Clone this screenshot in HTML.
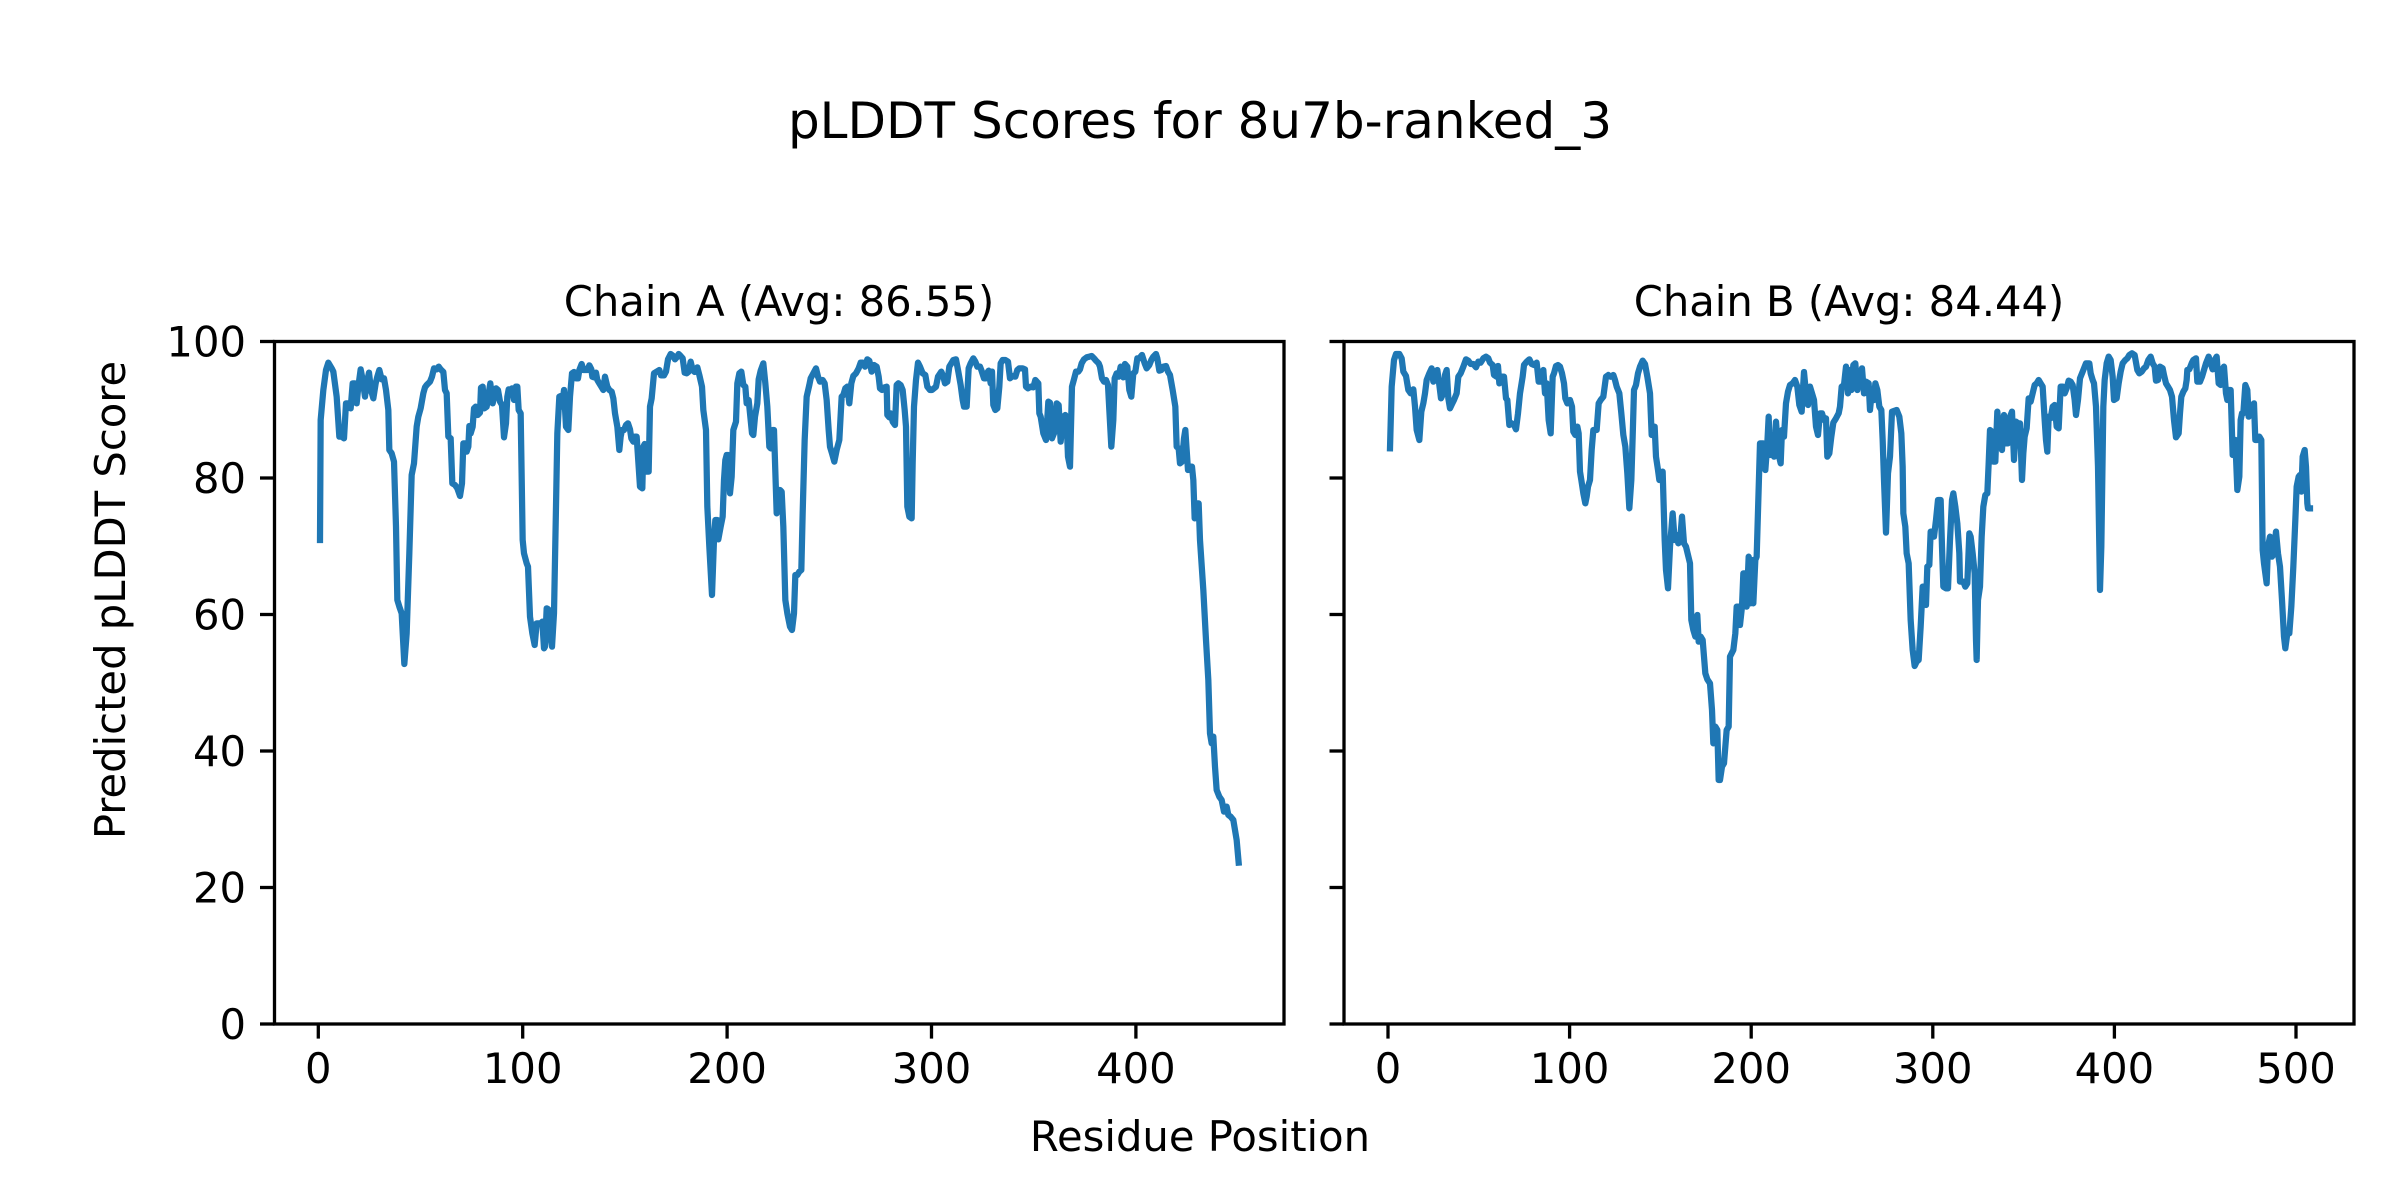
<!DOCTYPE html>
<html><head><meta charset="utf-8"><style>
html,body{margin:0;padding:0;background:#fff;}
svg{display:block;}
text{font-family:"DejaVu Sans","Liberation Sans",sans-serif;fill:#000;}
.l{fill:none;stroke:#1f77b4;stroke-width:6.25;stroke-linejoin:round;stroke-linecap:square;}
</style></head><body>
<svg width="2400" height="1200" viewBox="0 0 2400 1200" xmlns="http://www.w3.org/2000/svg">
<rect width="2400" height="1200" fill="#fff"/>
<text x="1200" y="138" font-size="50" text-anchor="middle">pLDDT Scores for 8u7b-ranked_3</text>
<text x="779" y="316" font-size="41.7" text-anchor="middle">Chain A (Avg: 86.55)</text>
<text x="1849" y="316" font-size="41.7" text-anchor="middle">Chain B (Avg: 84.44)</text>
<text x="1200" y="1151" font-size="41.7" text-anchor="middle">Residue Position</text>
<text transform="translate(125,600) rotate(-90)" font-size="41.7" text-anchor="middle">Predicted pLDDT Score</text>

<!-- Chain A data -->
<g transform="translate(300,340) scale(0.33333)">
<polyline class="l" vector-effect="non-scaling-stroke" points="60,600 62,240 70,150 78,90 85,68 95,85 100,95 110,170 118,290 125,290 132,295 138,190 148,190 152,205 158,130 165,130 170,190 175,140 182,88 188,120 195,170 200,130 207,98 213,150 220,175 227,130 232,110 238,90 245,118 252,115 258,150 265,210 268,330 275,340 282,365 288,560 292,780 298,800 305,820 313,972 320,880 328,640 335,405 342,370 350,260 355,230 362,205 370,160 375,142 380,135 390,125 396,110 402,85 410,88 416,80 422,88 430,96 435,150 440,160 445,290 452,295 457,430 465,435 472,445 480,468 486,430 490,310 497,310 500,335 505,320 508,258 512,280 518,260 522,205 527,200 533,225 540,218 543,143 548,140 553,205 560,200 566,160 571,130 578,190 583,170 588,145 594,150 600,185 606,195 612,292 618,250 622,170 626,148 632,150 636,145 642,180 648,140 652,140 656,210 662,220 668,600 672,640 680,670 684,680 690,830 697,880 704,915 710,850 716,850 722,850 727,845 732,925 735,920 740,805 745,808 750,870 756,920 762,820 768,500 772,280 778,170 782,168 786,200 792,150 798,260 805,270 810,170 816,100 822,96 828,115 834,115 838,90 845,72 850,90 856,90 862,90 868,76 874,88 877,110 882,112 888,98 892,120 898,130 904,140 910,150 915,110 922,140 928,150 935,155 940,175 945,220 952,260 958,330 962,290 966,270 972,270 978,255 984,250 990,268 994,295 1000,305 1005,290 1010,290 1015,365 1020,440 1027,445 1030,320 1034,312 1040,395 1046,395 1050,200 1055,175 1062,100 1070,95 1078,90 1083,106 1092,106 1098,95 1104,58 1112,42 1120,48 1125,58 1132,50 1136,42 1142,48 1148,55 1154,98 1160,100 1166,95 1172,65 1178,90 1184,96 1192,82 1198,105 1206,140 1210,210 1218,270 1222,500 1228,620 1236,765 1242,600 1246,540 1252,540 1255,598 1262,560 1268,530 1272,420 1276,360 1280,345 1285,345 1290,460 1295,410 1300,270 1308,245 1312,130 1318,100 1324,95 1330,135 1336,140 1340,190 1346,180 1352,240 1356,280 1360,285 1365,230 1372,190 1376,118 1382,92 1390,70 1396,130 1402,200 1408,320 1412,325 1418,270 1422,270 1430,520 1436,450 1440,450
1445,455 1450,560 1456,780 1462,820 1470,860 1476,870 1482,820 1486,705 1492,705 1498,695 1504,690 1508,520 1514,300 1520,170 1528,135 1532,115 1540,100 1548,85 1554,110 1560,125 1568,120 1574,130 1580,180 1586,270 1590,320 1596,340 1603,365 1610,330 1618,300 1625,170 1630,165 1636,145 1642,140 1648,190 1654,130 1660,108 1668,100 1676,85 1682,68 1688,68 1695,80 1702,58 1708,62 1715,95 1722,75 1730,80 1736,110 1740,145 1746,150 1754,142 1760,140 1762,225 1768,232 1772,220 1778,245 1785,255 1790,135 1795,130 1802,135 1808,150 1814,210 1818,260 1822,500 1828,530 1835,535 1838,370 1842,200 1848,120 1854,68 1860,80 1868,100 1876,105 1882,140 1890,150 1896,150 1902,145 1908,140 1914,110 1924,95 1930,110 1935,130 1942,125 1948,80 1954,70 1960,60 1968,58 1975,95 1982,135 1988,180 1992,200 2000,200 2006,85 2012,70 2020,55 2026,65 2032,80 2040,80 2044,90 2052,115 2058,115 2062,98 2066,92 2072,130 2076,95 2080,195 2086,210 2092,205 2098,140 2102,70 2108,60 2116,60 2124,65 2130,115 2138,108 2146,110 2152,90 2158,85 2168,85 2175,88 2178,140 2184,145 2192,140 2200,142 2206,120 2215,130 2218,220 2222,230 2230,280 2238,300 2245,185 2250,188 2256,295 2264,275 2270,190 2276,195 2282,305 2290,230 2296,225 2300,245 2304,350 2310,380 2316,140 2322,118 2328,95 2335,95 2340,88 2345,70 2352,58 2360,52 2368,50 2375,48 2382,55 2388,62 2396,70 2400,80 2406,115 2412,125 2418,120 2424,135 2428,210 2434,320 2440,240 2444,115 2450,100 2456,110 2462,80 2466,85 2470,112 2475,72 2482,80 2488,150 2494,170 2500,100 2506,95 2512,55 2518,55 2526,45 2534,70 2540,85 2548,75 2554,60 2560,50 2568,42 2572,55 2578,92 2584,90 2590,80 2598,78 2604,95 2610,105 2618,150 2626,200 2630,320 2636,325 2640,370 2646,365 2652,295 2656,270 2660,330 2664,390 2670,380 2676,380 2680,420 2684,535 2690,490 2696,490 2700,600 2710,750 2718,900 2725,1020 2730,1180 2735,1210 2740,1190 2745,1280 2750,1350 2758,1370 2765,1380 2772,1415 2780,1400 2785,1425 2792,1430 2800,1440 2810,1500 2816,1568"/>
</g>

<!-- Chain B data -->
<g transform="translate(1360,340) scale(0.33333)">
<polyline class="l" vector-effect="non-scaling-stroke" points="90,325 95,140 102,60 108,42 118,42 125,55 130,95 138,108 145,150 152,160 160,148 165,200 170,270 178,300 184,215 190,190 195,160 200,120 208,100 215,85 220,125 227,95 232,90 238,135 243,175 250,160 255,105 260,90 265,175 270,205 277,190 282,180 290,160 295,110 302,100 310,80 318,58 325,62 332,72 340,72 348,82 355,65 362,68 370,55 378,50 385,55 390,68 398,75 402,105 410,110 414,78 418,130 425,110 432,110 438,175 442,180 448,255 455,250 462,255 468,268 474,220 480,160 488,110 492,75 500,65 508,58 515,72 522,75 530,68 536,125 542,125 550,90 555,160 560,130 566,240 572,280 578,110 582,100 588,78 594,75 600,80 606,100 612,130 616,175 622,190 630,180 636,200 640,275 646,285 652,260 656,280 660,395 664,420 670,460 676,490 680,470 684,440 690,420 695,330 700,270 710,270 716,190 722,180 730,170 738,110 745,105 752,110 760,105 765,120 770,140 778,160 784,220 790,285 796,320 802,400 808,505 814,420 818,290 822,150 828,135 834,100 840,80 848,62 855,72 862,110 870,160 875,285 880,285 884,260 888,350 894,390 898,420 902,400 908,395 914,600 918,690 924,745 930,620 938,520 944,600 950,585 955,610 962,580 966,530 972,610 978,620 984,645 990,670 994,840 1000,870 1006,890 1012,825 1016,905 1022,890 1028,900 1036,1000 1042,1018 1050,1030 1056,1110 1060,1210 1066,1160 1072,1170 1076,1320 1080,1320 1086,1280 1092,1270 1100,1170 1106,1160 1110,950 1115,940 1120,930 1126,880 1130,800 1136,800 1140,855 1146,800 1150,700 1156,700 1160,800 1166,650 1172,790 1176,660 1180,790 1186,660 1190,650 1200,310 1210,310 1216,390 1222,310 1226,230 1230,345 1236,300 1242,350 1248,245 1255,340 1262,370 1266,270 1272,290 1278,190 1284,155 1290,135 1298,130 1305,120 1312,140 1318,195 1325,215 1332,96 1338,160 1344,195 1350,140 1356,160 1362,180 1368,260 1374,285 1380,220 1386,220 1392,240 1398,235 1402,350 1408,340 1414,290 1420,248 1428,235 1436,220 1440,200
1445,140 1452,135 1458,80 1464,160 1468,90 1474,150 1480,75 1486,70 1492,150 1498,110 1506,85 1512,160 1518,125 1526,130 1530,210 1536,150 1542,180 1546,130 1552,150 1558,200 1564,210 1568,300 1572,420 1578,578 1584,400 1590,350 1596,215 1604,212 1610,210 1618,230 1624,280 1628,380 1630,520 1636,560 1640,640 1646,670 1652,840 1658,930 1664,978 1670,965 1676,960 1682,860 1688,740 1696,740 1698,795 1702,680 1708,675 1712,575 1718,575 1722,590 1728,540 1734,480 1742,480 1746,620 1750,740 1758,745 1764,745 1770,600 1776,480 1780,460 1786,500 1792,550 1798,640 1800,725 1810,725 1816,740 1822,730 1828,580 1832,590 1838,640 1844,700 1848,900 1850,960 1854,780 1860,740 1865,590 1870,500 1876,465 1882,460 1886,370 1890,270 1896,275 1900,365 1906,365 1912,215 1916,260 1920,300 1926,330 1932,225 1938,310 1944,310 1950,230 1956,215 1962,360 1968,245 1974,250 1980,250 1986,420 1990,340 1994,290 2000,265 2006,175 2012,185 2018,160 2024,135 2030,130 2036,120 2042,130 2048,140 2054,240 2058,300 2062,335 2066,230 2072,235 2078,200 2084,195 2090,260 2096,265 2102,140 2108,140 2114,160 2120,145 2126,122 2132,125 2138,135 2144,180 2148,225 2154,180 2160,115 2170,90 2178,70 2188,70 2192,100 2198,120 2202,130 2208,200 2214,380 2218,620 2220,750 2224,620 2230,200 2234,120 2240,70 2246,50 2252,60 2258,110 2262,180 2270,175 2276,130 2282,95 2288,70 2296,60 2302,55 2308,45 2316,40 2324,45 2332,90 2338,100 2345,95 2352,85 2358,80 2365,60 2372,50 2378,70 2384,80 2388,122 2394,120 2400,80 2408,85 2412,105 2418,130 2424,140 2430,150 2436,170 2442,240 2448,292 2456,280 2460,220 2464,170 2470,155 2476,145 2480,120 2482,90 2488,88 2495,70 2500,60 2508,55 2512,125 2520,125 2526,110 2532,90 2538,70 2546,50 2552,70 2558,88 2564,60 2570,50 2576,130 2582,135 2586,90 2592,80 2598,160 2602,180 2606,150 2612,150 2618,345 2626,300 2632,450 2638,410 2642,240 2646,220 2650,220 2656,135 2662,150 2666,230 2672,225 2678,200 2682,190 2686,300 2692,300 2698,290 2704,300 2708,630 2712,670 2720,730 2724,620 2730,590 2736,650 2742,640 2748,575 2754,640 2760,680 2766,780 2772,890 2776,925 2782,880 2788,880 2794,800 2800,680 2806,540 2810,440 2816,410 2820,405 2824,455 2828,350 2834,330 2838,380 2842,490 2844,505 2850,505"/>
</g>

<g stroke="#000" stroke-width="3.3" fill="none" stroke-linecap="square">
<rect x="274.5" y="341.5" width="1009.5" height="682.5"/>
<rect x="1344" y="341.5" width="1010" height="682.5"/>
</g>
<g stroke="#000" stroke-width="3.3">
<line x1="260" y1="1024" x2="274.5" y2="1024"/>
<line x1="260" y1="887.5" x2="274.5" y2="887.5"/>
<line x1="260" y1="751" x2="274.5" y2="751"/>
<line x1="260" y1="614.5" x2="274.5" y2="614.5"/>
<line x1="260" y1="478" x2="274.5" y2="478"/>
<line x1="260" y1="341.5" x2="274.5" y2="341.5"/>
<line x1="1329.5" y1="1024" x2="1344" y2="1024"/>
<line x1="1329.5" y1="887.5" x2="1344" y2="887.5"/>
<line x1="1329.5" y1="751" x2="1344" y2="751"/>
<line x1="1329.5" y1="614.5" x2="1344" y2="614.5"/>
<line x1="1329.5" y1="478" x2="1344" y2="478"/>
<line x1="1329.5" y1="341.5" x2="1344" y2="341.5"/>
<line x1="318.3" y1="1024" x2="318.3" y2="1038.6"/>
<line x1="522.7" y1="1024" x2="522.7" y2="1038.6"/>
<line x1="727.1" y1="1024" x2="727.1" y2="1038.6"/>
<line x1="931.5" y1="1024" x2="931.5" y2="1038.6"/>
<line x1="1135.9" y1="1024" x2="1135.9" y2="1038.6"/>
<line x1="1388" y1="1024" x2="1388" y2="1038.6"/>
<line x1="1569.6" y1="1024" x2="1569.6" y2="1038.6"/>
<line x1="1751.2" y1="1024" x2="1751.2" y2="1038.6"/>
<line x1="1932.8" y1="1024" x2="1932.8" y2="1038.6"/>
<line x1="2114.4" y1="1024" x2="2114.4" y2="1038.6"/>
<line x1="2296" y1="1024" x2="2296" y2="1038.6"/>
</g>
<g font-size="41.7" text-anchor="end">
<text x="246" y="1039">0</text>
<text x="246" y="902.5">20</text>
<text x="246" y="766">40</text>
<text x="246" y="629.5">60</text>
<text x="246" y="493">80</text>
<text x="246" y="356.5">100</text>
</g>
<g font-size="41.7" text-anchor="middle">
<text x="318.3" y="1083">0</text>
<text x="522.7" y="1083">100</text>
<text x="727.1" y="1083">200</text>
<text x="931.5" y="1083">300</text>
<text x="1135.9" y="1083">400</text>
<text x="1388" y="1083">0</text>
<text x="1569.6" y="1083">100</text>
<text x="1751.2" y="1083">200</text>
<text x="1932.8" y="1083">300</text>
<text x="2114.4" y="1083">400</text>
<text x="2296" y="1083">500</text>
</g>
</svg>
</body></html>
